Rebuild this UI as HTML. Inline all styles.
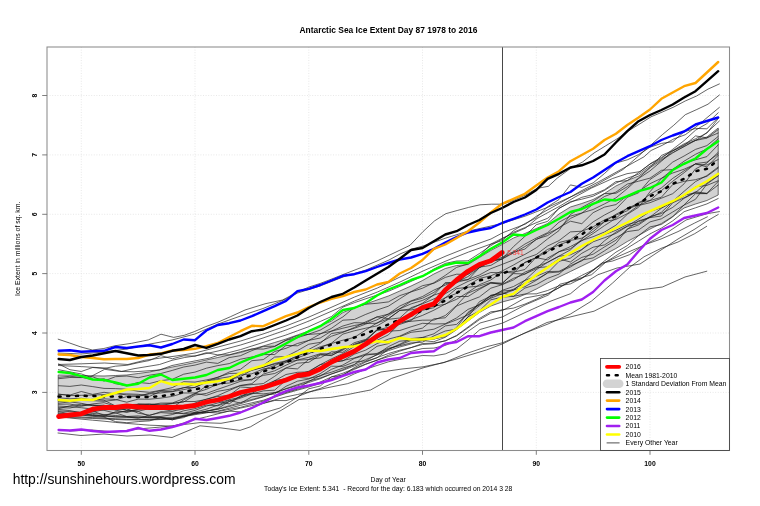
<!DOCTYPE html>
<html><head><meta charset="utf-8"><title>Antarctic Sea Ice Extent</title>
<style>html,body{margin:0;padding:0;background:#fff;width:760px;height:506px;overflow:hidden}</style></head>
<body>
<svg width="760" height="506" viewBox="0 0 760 506" style="position:absolute;left:0;top:0;font-family:'Liberation Sans',sans-serif">
<rect width="760" height="506" fill="#fff"/>
<g stroke="#dedede" stroke-width="0.7" stroke-dasharray="1 1.6" fill="none">
<line x1="81.3" y1="47" x2="81.3" y2="450.5"/>
<line x1="195.0" y1="47" x2="195.0" y2="450.5"/>
<line x1="308.8" y1="47" x2="308.8" y2="450.5"/>
<line x1="422.5" y1="47" x2="422.5" y2="450.5"/>
<line x1="536.3" y1="47" x2="536.3" y2="450.5"/>
<line x1="650.0" y1="47" x2="650.0" y2="450.5"/>
<line x1="47" y1="392.4" x2="729.5" y2="392.4"/>
<line x1="47" y1="333.0" x2="729.5" y2="333.0"/>
<line x1="47" y1="273.6" x2="729.5" y2="273.6"/>
<line x1="47" y1="214.3" x2="729.5" y2="214.3"/>
<line x1="47" y1="154.9" x2="729.5" y2="154.9"/>
<line x1="47" y1="95.5" x2="729.5" y2="95.5"/>
</g>
<defs><clipPath id="c"><rect x="47" y="47" width="682.5" height="403.5"/></clipPath></defs>
<g clip-path="url(#c)" fill="none" stroke-linejoin="round" stroke-linecap="round">
<polygon fill="#d2d2d2" stroke="#333" stroke-width="0.7" points="58.6,375.0 69.9,375.2 81.3,375.5 92.7,375.8 104.0,376.0 115.4,375.5 126.8,375.0 138.2,373.5 149.5,372.0 160.9,369.5 172.3,367.0 183.7,364.8 195.0,362.5 206.4,360.0 217.8,357.5 229.2,355.0 240.5,352.5 251.9,349.2 263.3,346.0 274.7,342.5 286.0,339.0 297.4,335.0 308.8,331.0 320.2,326.0 331.5,321.0 342.9,312.5 354.3,308.0 365.7,304.0 377.0,300.0 388.4,296.0 399.8,291.0 411.1,286.0 422.5,280.5 433.9,274.0 445.3,268.5 456.6,265.5 468.0,264.5 479.4,257.5 490.8,250.5 502.1,244.5 513.5,238.0 524.9,233.5 536.3,228.5 547.6,223.5 559.0,214.0 570.4,207.0 581.8,203.5 593.1,199.5 604.5,193.5 615.9,186.0 627.3,180.5 638.6,176.0 650.0,167.5 661.4,160.5 672.7,153.0 684.1,146.5 695.5,140.0 706.9,137.0 718.2,128.0 718.2,195.0 706.9,200.5 695.5,204.0 684.1,208.0 672.7,216.5 661.4,223.5 650.0,229.0 638.6,235.5 627.3,241.5 615.9,248.5 604.5,254.5 593.1,260.5 581.8,266.0 570.4,271.5 559.0,277.0 547.6,283.0 536.3,289.0 524.9,294.5 513.5,299.0 502.1,302.0 490.8,306.0 479.4,312.5 468.0,321.0 456.6,329.5 445.3,335.5 433.9,339.0 422.5,340.5 411.1,344.0 399.8,347.0 388.4,350.7 377.0,355.0 365.7,359.5 354.3,364.5 342.9,369.7 331.5,374.0 320.2,378.8 308.8,382.5 297.4,385.8 286.0,389.0 274.7,392.8 263.3,396.5 251.9,399.5 240.5,402.5 229.2,405.8 217.8,409.0 206.4,411.2 195.0,413.5 183.7,416.2 172.3,419.0 160.9,419.5 149.5,420.0 138.2,420.0 126.8,420.0 115.4,419.5 104.0,419.0 92.7,418.5 81.3,418.0 69.9,417.5 58.6,417.0"/>
<g stroke="#1c1c1c" stroke-width="0.68">
<polyline points="58.6,377.3 69.9,376.3 81.3,377.3 92.7,379.5 104.0,378.8 115.4,383.7 126.8,385.7 138.2,382.4 149.5,383.5 160.9,380.6 172.3,379.3 183.7,374.2 195.0,372.1 206.4,368.2 217.8,365.6 229.2,363.6 240.5,359.2 251.9,357.0 263.3,354.6 274.7,354.5 286.0,345.4 297.4,345.8 308.8,340.4 320.2,334.1 331.5,328.3 342.9,320.2 354.3,319.5 365.7,314.4 377.0,310.0 388.4,306.2 399.8,298.8 411.1,291.6 422.5,285.7 433.9,283.3 445.3,277.4 456.6,274.2 468.0,274.5 479.4,267.2 490.8,265.4 502.1,258.8 513.5,252.1 524.9,249.1 536.3,239.2 547.6,235.6 559.0,227.6 570.4,221.2 581.8,223.7 593.1,212.7 604.5,207.1 615.9,204.6 627.3,195.6 638.6,191.5 650.0,183.7 661.4,178.3 672.7,173.0 684.1,169.2 695.5,164.1 706.9,165.0 718.2,159.5"/>
<polyline points="58.6,378.7 69.9,377.5 81.3,377.6 92.7,376.8 104.0,381.1 115.4,376.7 126.8,376.0 138.2,377.7 149.5,375.2 160.9,373.5 172.3,370.4 183.7,367.0 195.0,365.1 206.4,362.1 217.8,363.4 229.2,357.6 240.5,355.7 251.9,350.6 263.3,346.4 274.7,346.2 286.0,340.1 297.4,335.6 308.8,334.4 320.2,333.6 331.5,331.2 342.9,328.2 354.3,325.5 365.7,323.4 377.0,323.3 388.4,315.5 399.8,308.8 411.1,303.9 422.5,300.4 433.9,295.1 445.3,291.3 456.6,282.4 468.0,279.4 479.4,275.0 490.8,268.7 502.1,264.4 513.5,259.9 524.9,254.4 536.3,247.8 547.6,238.9 559.0,230.6 570.4,214.5 581.8,207.5 593.1,201.3 604.5,193.5 615.9,193.3 627.3,186.7 638.6,178.0 650.0,167.7 661.4,155.5 672.7,150.5 684.1,143.8 695.5,138.8 706.9,133.1 718.2,118.6"/>
<polyline points="58.6,385.7 69.9,386.4 81.3,385.0 92.7,386.6 104.0,388.4 115.4,388.6 126.8,389.2 138.2,391.3 149.5,392.3 160.9,390.2 172.3,387.6 183.7,381.7 195.0,382.1 206.4,379.9 217.8,377.5 229.2,372.0 240.5,369.3 251.9,360.7 263.3,359.6 274.7,351.5 286.0,348.3 297.4,343.5 308.8,340.4 320.2,338.0 331.5,331.1 342.9,326.0 354.3,322.7 365.7,323.0 377.0,316.8 388.4,318.7 399.8,310.4 411.1,308.9 422.5,303.2 433.9,294.8 445.3,282.5 456.6,282.8 468.0,273.8 479.4,266.2 490.8,261.8 502.1,257.3 513.5,251.7 524.9,244.1 536.3,238.0 547.6,232.7 559.0,222.2 570.4,216.1 581.8,213.0 593.1,209.5 604.5,203.9 615.9,197.9 627.3,188.6 638.6,178.5 650.0,170.9 661.4,161.2 672.7,150.9 684.1,145.5 695.5,135.9 706.9,137.8 718.2,133.0"/>
<polyline points="58.6,394.1 69.9,395.5 81.3,395.3 92.7,395.0 104.0,394.6 115.4,393.2 126.8,395.0 138.2,395.4 149.5,393.9 160.9,392.9 172.3,391.6 183.7,387.5 195.0,387.5 206.4,381.4 217.8,378.6 229.2,376.8 240.5,374.1 251.9,369.9 263.3,365.3 274.7,357.0 286.0,356.6 297.4,350.7 308.8,344.2 320.2,342.4 331.5,336.2 342.9,332.4 354.3,327.5 365.7,321.8 377.0,317.0 388.4,314.1 399.8,308.7 411.1,301.3 422.5,298.2 433.9,292.4 445.3,283.6 456.6,281.9 468.0,276.6 479.4,267.7 490.8,260.9 502.1,258.9 513.5,246.6 524.9,236.4 536.3,224.7 547.6,221.4 559.0,208.2 570.4,202.5 581.8,197.3 593.1,194.6 604.5,189.7 615.9,181.6 627.3,180.7 638.6,172.6 650.0,164.1 661.4,158.5 672.7,149.3 684.1,140.6 695.5,130.2 706.9,123.6 718.2,112.8"/>
<polyline points="58.6,397.7 69.9,398.8 81.3,398.3 92.7,400.0 104.0,398.8 115.4,399.5 126.8,402.2 138.2,399.1 149.5,399.2 160.9,398.1 172.3,396.4 183.7,393.0 195.0,392.9 206.4,389.3 217.8,384.0 229.2,383.0 240.5,379.9 251.9,380.0 263.3,369.5 274.7,365.5 286.0,360.9 297.4,356.1 308.8,349.4 320.2,343.4 331.5,333.5 342.9,331.8 354.3,328.3 365.7,324.1 377.0,319.8 388.4,314.0 399.8,306.0 411.1,300.9 422.5,296.5 433.9,290.1 445.3,285.1 456.6,280.5 468.0,279.8 479.4,267.6 490.8,261.7 502.1,259.0 513.5,253.0 524.9,246.6 536.3,239.6 547.6,233.5 559.0,228.2 570.4,218.4 581.8,213.2 593.1,204.2 604.5,196.5 615.9,192.1 627.3,184.1 638.6,181.2 650.0,178.1 661.4,170.3 672.7,169.6 684.1,163.3 695.5,159.8 706.9,156.6 718.2,144.8"/>
<polyline points="58.6,394.3 69.9,395.1 81.3,391.5 92.7,394.4 104.0,392.3 115.4,393.8 126.8,393.9 138.2,394.3 149.5,396.3 160.9,391.3 172.3,391.7 183.7,389.6 195.0,387.3 206.4,382.3 217.8,379.7 229.2,379.8 240.5,376.7 251.9,369.9 263.3,367.3 274.7,363.4 286.0,360.8 297.4,356.1 308.8,351.7 320.2,346.8 331.5,343.5 342.9,340.2 354.3,337.4 365.7,330.1 377.0,322.9 388.4,318.8 399.8,310.4 411.1,310.0 422.5,307.6 433.9,303.9 445.3,297.7 456.6,293.4 468.0,285.3 479.4,278.4 490.8,275.8 502.1,271.0 513.5,265.0 524.9,258.5 536.3,254.5 547.6,246.0 559.0,240.6 570.4,231.9 581.8,231.2 593.1,221.9 604.5,215.0 615.9,209.1 627.3,197.3 638.6,192.8 650.0,179.5 661.4,172.0 672.7,162.1 684.1,156.0 695.5,149.4 706.9,145.6 718.2,136.4"/>
<polyline points="58.6,401.2 69.9,401.1 81.3,400.5 92.7,400.7 104.0,401.3 115.4,400.0 126.8,396.6 138.2,396.5 149.5,393.3 160.9,390.6 172.3,389.9 183.7,387.9 195.0,384.3 206.4,381.3 217.8,377.1 229.2,373.5 240.5,373.2 251.9,370.4 263.3,367.1 274.7,364.1 286.0,361.8 297.4,357.8 308.8,353.7 320.2,347.8 331.5,343.1 342.9,334.1 354.3,330.8 365.7,328.2 377.0,325.9 388.4,319.3 399.8,318.0 411.1,307.7 422.5,303.8 433.9,298.9 445.3,293.7 456.6,287.1 468.0,281.4 479.4,276.8 490.8,272.5 502.1,272.8 513.5,271.0 524.9,262.5 536.3,257.7 547.6,259.9 559.0,251.7 570.4,246.6 581.8,240.5 593.1,236.7 604.5,232.0 615.9,225.2 627.3,214.3 638.6,207.2 650.0,191.7 661.4,178.7 672.7,169.4 684.1,161.2 695.5,154.3 706.9,148.9 718.2,138.8"/>
<polyline points="58.6,400.8 69.9,400.8 81.3,400.4 92.7,399.3 104.0,400.2 115.4,405.9 126.8,404.7 138.2,404.3 149.5,403.8 160.9,405.4 172.3,403.6 183.7,401.5 195.0,401.5 206.4,399.4 217.8,395.6 229.2,390.5 240.5,385.6 251.9,384.6 263.3,383.6 274.7,376.3 286.0,368.0 297.4,363.2 308.8,362.3 320.2,355.0 331.5,355.2 342.9,350.1 354.3,342.7 365.7,339.4 377.0,330.4 388.4,329.3 399.8,320.3 411.1,315.1 422.5,310.3 433.9,307.7 445.3,297.9 456.6,288.6 468.0,287.2 479.4,286.0 490.8,282.4 502.1,283.2 513.5,273.6 524.9,274.0 536.3,268.8 547.6,258.0 559.0,251.7 570.4,248.7 581.8,240.6 593.1,233.5 604.5,225.6 615.9,218.4 627.3,208.1 638.6,203.6 650.0,194.2 661.4,187.9 672.7,178.4 684.1,170.8 695.5,163.9 706.9,166.9 718.2,155.3"/>
<polyline points="58.6,403.2 69.9,401.9 81.3,403.3 92.7,405.7 104.0,405.1 115.4,410.0 126.8,412.5 138.2,409.4 149.5,407.8 160.9,409.0 172.3,411.1 183.7,409.0 195.0,403.0 206.4,399.1 217.8,396.5 229.2,395.5 240.5,387.0 251.9,387.8 263.3,385.6 274.7,380.7 286.0,374.5 297.4,372.3 308.8,371.9 320.2,364.7 331.5,358.8 342.9,353.6 354.3,346.5 365.7,346.1 377.0,340.3 388.4,334.9 399.8,323.3 411.1,319.6 422.5,315.4 433.9,310.2 445.3,304.0 456.6,299.3 468.0,292.3 479.4,284.7 490.8,280.0 502.1,272.1 513.5,273.0 524.9,262.5 536.3,257.5 547.6,251.6 559.0,242.5 570.4,239.7 581.8,231.2 593.1,226.9 604.5,219.8 615.9,215.1 627.3,210.8 638.6,202.2 650.0,200.6 661.4,197.2 672.7,184.6 684.1,181.3 695.5,179.7 706.9,176.3 718.2,168.0"/>
<polyline points="58.6,404.3 69.9,404.0 81.3,406.3 92.7,403.9 104.0,402.7 115.4,406.1 126.8,405.1 138.2,404.5 149.5,404.6 160.9,404.3 172.3,403.3 183.7,402.0 195.0,395.0 206.4,393.4 217.8,389.3 229.2,385.4 240.5,381.3 251.9,379.2 263.3,375.4 274.7,373.5 286.0,368.0 297.4,368.9 308.8,359.4 320.2,357.9 331.5,351.8 342.9,352.3 354.3,344.1 365.7,340.6 377.0,330.0 388.4,327.3 399.8,324.4 411.1,320.6 422.5,309.4 433.9,306.1 445.3,304.3 456.6,296.5 468.0,296.5 479.4,289.4 490.8,283.1 502.1,283.9 513.5,272.2 524.9,269.5 536.3,257.1 547.6,249.4 559.0,245.0 570.4,240.5 581.8,238.1 593.1,231.6 604.5,221.8 615.9,214.3 627.3,208.4 638.6,205.3 650.0,200.5 661.4,190.6 672.7,181.3 684.1,172.7 695.5,163.6 706.9,162.1 718.2,153.9"/>
<polyline points="58.6,407.6 69.9,408.0 81.3,405.5 92.7,405.1 104.0,407.9 115.4,408.1 126.8,410.2 138.2,403.9 149.5,404.8 160.9,403.1 172.3,403.0 183.7,398.7 195.0,393.3 206.4,395.4 217.8,391.3 229.2,389.3 240.5,385.4 251.9,383.7 263.3,374.1 274.7,370.8 286.0,365.2 297.4,360.0 308.8,357.3 320.2,353.7 331.5,353.8 342.9,348.7 354.3,345.5 365.7,341.0 377.0,329.3 388.4,329.5 399.8,322.3 411.1,321.3 422.5,320.2 433.9,320.1 445.3,315.5 456.6,305.5 468.0,293.1 479.4,288.4 490.8,282.9 502.1,284.5 513.5,278.3 524.9,274.1 536.3,266.9 547.6,262.3 559.0,256.1 570.4,249.9 581.8,239.1 593.1,229.0 604.5,221.4 615.9,219.5 627.3,213.6 638.6,205.5 650.0,202.7 661.4,198.2 672.7,193.7 684.1,183.8 695.5,168.9 706.9,163.1 718.2,152.3"/>
<polyline points="58.6,415.8 69.9,416.2 81.3,414.7 92.7,414.4 104.0,416.5 115.4,411.8 126.8,411.6 138.2,409.1 149.5,406.6 160.9,408.7 172.3,407.7 183.7,399.8 195.0,394.0 206.4,386.0 217.8,384.8 229.2,379.9 240.5,375.0 251.9,373.8 263.3,368.9 274.7,368.2 286.0,362.3 297.4,360.2 308.8,359.5 320.2,354.3 331.5,355.7 342.9,349.1 354.3,344.8 365.7,339.9 377.0,338.3 388.4,331.2 399.8,330.5 411.1,326.8 422.5,323.3 433.9,324.0 445.3,323.7 456.6,317.9 468.0,309.4 479.4,304.9 490.8,295.2 502.1,294.3 513.5,290.2 524.9,280.4 536.3,276.2 547.6,271.6 559.0,271.3 570.4,265.7 581.8,260.9 593.1,251.2 604.5,240.8 615.9,232.1 627.3,226.0 638.6,219.2 650.0,211.4 661.4,207.8 672.7,202.3 684.1,195.9 695.5,186.8 706.9,185.4 718.2,180.7"/>
<polyline points="58.6,406.1 69.9,406.7 81.3,407.7 92.7,409.2 104.0,410.3 115.4,413.2 126.8,410.8 138.2,411.2 149.5,408.6 160.9,407.4 172.3,405.6 183.7,406.4 195.0,407.0 206.4,403.0 217.8,401.3 229.2,403.9 240.5,395.7 251.9,393.1 263.3,393.9 274.7,392.5 286.0,391.9 297.4,388.6 308.8,381.4 320.2,375.5 331.5,372.2 342.9,368.1 354.3,364.8 365.7,354.5 377.0,346.3 388.4,343.6 399.8,336.6 411.1,332.3 422.5,331.0 433.9,329.2 445.3,324.1 456.6,319.8 468.0,314.9 479.4,305.8 490.8,297.3 502.1,290.4 513.5,286.5 524.9,280.3 536.3,269.7 547.6,262.3 559.0,256.3 570.4,254.8 581.8,249.5 593.1,241.8 604.5,237.7 615.9,233.4 627.3,226.4 638.6,223.6 650.0,216.5 661.4,213.6 672.7,207.4 684.1,198.3 695.5,192.5 706.9,183.1 718.2,175.5"/>
<polyline points="58.6,413.0 69.9,414.1 81.3,412.3 92.7,411.1 104.0,415.2 115.4,412.8 126.8,416.5 138.2,415.9 149.5,417.2 160.9,417.3 172.3,419.9 183.7,416.5 195.0,414.1 206.4,411.3 217.8,408.5 229.2,401.4 240.5,396.7 251.9,393.5 263.3,386.6 274.7,383.2 286.0,379.9 297.4,377.3 308.8,378.4 320.2,376.1 331.5,369.3 342.9,365.0 354.3,358.4 365.7,355.2 377.0,353.4 388.4,348.3 399.8,345.7 411.1,343.0 422.5,342.2 433.9,335.9 445.3,331.0 456.6,329.1 468.0,316.9 479.4,301.7 490.8,296.1 502.1,291.1 513.5,290.0 524.9,286.7 536.3,280.3 547.6,273.0 559.0,261.4 570.4,258.1 581.8,249.7 593.1,239.5 604.5,234.6 615.9,230.3 627.3,224.5 638.6,221.6 650.0,217.4 661.4,212.3 672.7,201.5 684.1,195.2 695.5,192.8 706.9,193.6 718.2,185.0"/>
<polyline points="58.6,411.6 69.9,413.9 81.3,412.3 92.7,412.1 104.0,409.6 115.4,409.8 126.8,408.6 138.2,413.2 149.5,415.1 160.9,412.6 172.3,413.4 183.7,413.3 195.0,410.4 206.4,406.1 217.8,403.0 229.2,399.7 240.5,397.3 251.9,389.9 263.3,388.5 274.7,380.7 286.0,378.8 297.4,374.9 308.8,371.2 320.2,364.7 331.5,362.3 342.9,360.9 354.3,354.2 365.7,350.1 377.0,343.6 388.4,339.1 399.8,336.1 411.1,330.8 422.5,328.1 433.9,318.8 445.3,317.8 456.6,306.0 468.0,301.3 479.4,296.9 490.8,288.2 502.1,284.7 513.5,279.9 524.9,272.1 536.3,267.7 547.6,266.8 559.0,258.9 570.4,262.0 581.8,253.3 593.1,247.2 604.5,244.9 615.9,237.7 627.3,231.6 638.6,230.0 650.0,221.9 661.4,218.8 672.7,212.0 684.1,205.1 695.5,199.3 706.9,184.1 718.2,175.9"/>
<polyline points="58.6,408.7 69.9,405.8 81.3,404.2 92.7,405.0 104.0,405.8 115.4,405.9 126.8,410.3 138.2,411.3 149.5,416.6 160.9,416.5 172.3,414.6 183.7,410.8 195.0,408.7 206.4,405.0 217.8,405.8 229.2,401.6 240.5,398.1 251.9,393.9 263.3,390.9 274.7,390.1 286.0,380.1 297.4,374.6 308.8,372.0 320.2,369.1 331.5,362.3 342.9,360.5 354.3,358.0 365.7,354.0 377.0,354.3 388.4,346.6 399.8,341.2 411.1,340.2 422.5,337.5 433.9,339.0 445.3,336.7 456.6,327.4 468.0,312.3 479.4,304.3 490.8,295.6 502.1,292.6 513.5,296.4 524.9,288.1 536.3,284.6 547.6,278.4 559.0,274.1 570.4,264.1 581.8,257.4 593.1,254.2 604.5,246.9 615.9,240.2 627.3,229.1 638.6,224.9 650.0,217.0 661.4,208.3 672.7,201.3 684.1,191.3 695.5,181.6 706.9,175.6 718.2,167.0"/>
<polyline points="58.6,409.4 69.9,410.6 81.3,412.8 92.7,415.6 104.0,415.7 115.4,416.8 126.8,416.9 138.2,418.3 149.5,415.5 160.9,411.7 172.3,411.8 183.7,413.8 195.0,412.5 206.4,412.4 217.8,413.0 229.2,411.1 240.5,411.9 251.9,407.6 263.3,403.4 274.7,400.5 286.0,400.6 297.4,397.5 308.8,388.8 320.2,386.0 331.5,376.9 342.9,375.3 354.3,367.6 365.7,362.1 377.0,357.8 388.4,349.4 399.8,344.2 411.1,338.6 422.5,337.4 433.9,333.8 445.3,325.9 456.6,324.4 468.0,313.4 479.4,304.2 490.8,298.2 502.1,293.8 513.5,289.2 524.9,283.2 536.3,279.6 547.6,272.9 559.0,272.0 570.4,267.0 581.8,260.1 593.1,257.9 604.5,250.8 615.9,243.3 627.3,229.3 638.6,220.8 650.0,217.6 661.4,216.0 672.7,202.8 684.1,197.8 695.5,191.8 706.9,193.3 718.2,181.4"/>
<polyline points="58.6,414.7 69.9,416.2 81.3,415.0 92.7,416.3 104.0,417.1 115.4,421.6 126.8,422.7 138.2,421.6 149.5,420.9 160.9,417.6 172.3,419.7 183.7,417.6 195.0,412.1 206.4,409.2 217.8,405.1 229.2,400.2 240.5,403.2 251.9,396.9 263.3,395.2 274.7,394.0 286.0,386.3 297.4,381.2 308.8,379.0 320.2,373.7 331.5,366.2 342.9,366.4 354.3,362.0 365.7,360.8 377.0,354.5 388.4,349.3 399.8,344.8 411.1,340.4 422.5,340.6 433.9,341.7 445.3,337.3 456.6,329.6 468.0,316.9 479.4,310.9 490.8,299.8 502.1,297.2 513.5,296.3 524.9,294.0 536.3,293.8 547.6,290.5 559.0,285.8 570.4,283.9 581.8,278.2 593.1,270.7 604.5,260.9 615.9,252.2 627.3,245.6 638.6,235.6 650.0,226.9 661.4,224.5 672.7,216.9 684.1,204.8 695.5,193.7 706.9,193.6"/>
<polyline points="58.6,363.9 69.9,369.7 81.3,371.5 92.7,367.5 104.0,368.5 115.4,366.2 126.8,365.3 138.2,362.7 149.5,360.5 160.9,355.6 172.3,358.8 183.7,355.8 195.0,356.1 206.4,352.7 217.8,354.9 229.2,354.8 240.5,351.7 251.9,348.9 263.3,349.1 274.7,346.5 286.0,340.4 297.4,337.7 308.8,334.1 320.2,330.1 331.5,323.5 342.9,316.9 354.3,307.4 365.7,304.2 377.0,303.3 388.4,301.9 399.8,295.6 411.1,291.9 422.5,288.2 433.9,282.7 445.3,275.4 456.6,267.4 468.0,264.0 479.4,256.1 490.8,244.2 502.1,240.6 513.5,230.6 524.9,223.6 536.3,217.9 547.6,206.8 559.0,199.5 570.4,184.9 581.8,187.4 593.1,182.9 604.5,173.5 615.9,163.0 627.3,159.8 638.6,154.6 650.0,147.2 661.4,143.4 672.7,141.8 684.1,131.8 695.5,128.4 706.9,128.8 718.2,117.6"/>
<polyline points="58.4,369.7 81.6,374.0 90.0,377.0 104.7,369.3 119.5,371.4 134.0,371.8 159.5,370.0 172.0,365.5 193.0,361.3 210.0,358.0 217.8,355.4 229.2,352.5 240.5,349.6 251.9,346.0 263.3,342.4 274.7,338.6 286.0,335.0 297.4,330.8 308.8,326.7 320.2,321.5 331.5,316.5 342.9,307.1 354.3,302.7 365.7,298.8 377.0,295.1 388.4,291.3 399.8,286.4 411.1,281.4 422.5,276.0 433.9,269.0 445.3,263.4 456.6,261.0 468.0,260.8 479.4,253.5 490.8,245.7 502.1,239.0 513.5,232.2 524.9,227.6 536.3,222.7 547.6,218.3 559.0,208.5 570.4,201.7 581.8,199.2 593.1,196.2 604.5,190.4 615.9,183.1 627.3,178.2 638.6,174.2 650.0,166.1 661.4,159.5 672.7,152.5 684.1,146.5 695.5,140.5 706.9,138.1 718.2,129.6"/>
<polyline points="58.2,339.2 69.6,343.0 81.0,347.0 92.4,350.0 103.8,348.5 114.7,345.8 131.6,343.3 148.4,339.9 161.0,334.2 173.7,337.4 184.2,335.3 194.7,331.5 205.3,326.8 217.9,322.2 230.5,316.7 245.0,310.0 265.0,303.8 282.5,300.0 297.6,292.0 309.0,287.0 320.0,283.5 331.8,279.0 345.0,273.8 360.0,268.0 377.0,261.0 395.0,252.5 410.0,245.3 423.0,231.6 434.4,221.0 445.8,213.7 457.2,210.5 468.6,207.4 480.0,204.8 491.4,204.2 502.8,204.2 514.2,200.0 525.6,195.0 537.0,188.4 548.4,186.3 557.5,177.9 571.2,168.0 582.6,162.0 594.0,153.0 605.4,146.0 616.8,139.0 628.2,131.0 639.6,124.0 651.0,116.8 662.4,112.0 673.8,107.0 685.2,101.0 696.6,96.0 708.0,89.1 719.4,83.9"/>
<polyline points="58.2,353.0 81.0,354.0 104.0,352.0 127.0,349.0 150.0,344.0 172.0,340.0 195.0,334.0 218.0,324.0 240.6,316.0 263.0,308.5 286.0,299.0 297.6,293.0 320.0,286.0 343.0,277.0 366.0,270.0 389.0,260.0 400.0,254.0 412.0,249.0 423.0,246.0 446.0,238.0 468.6,231.0 491.0,226.0 503.0,223.2 525.6,216.0 548.4,207.0 571.0,196.8 594.0,186.0 617.0,173.0 623.0,169.5 640.0,154.7 650.5,145.3 662.3,134.7 673.7,125.3 685.3,114.7 696.8,109.5 708.0,104.2 719.4,95.0"/>
<polyline points="58.4,364.5 81.6,363.8 104.7,363.0 127.9,364.5 144.7,360.3 159.5,358.2 176.0,356.0 195.0,353.0 218.0,347.0 240.6,341.0 263.0,334.0 286.0,326.0 309.0,317.0 332.0,307.0 354.6,297.0 377.4,288.0 400.0,277.0 423.0,266.0 446.0,256.0 468.6,247.0 491.0,239.0 503.0,232.6 525.6,224.0 537.0,215.8 560.0,203.0 581.0,191.0 602.0,180.0 623.0,168.4 644.0,156.8 651.0,150.5 662.3,145.3 673.7,139.0 685.3,134.7 696.8,126.3 708.0,116.8 719.4,107.4"/>
<polyline points="58.4,365.5 81.6,366.6 104.7,368.0 121.6,371.4 134.0,368.7 159.5,364.5 172.0,360.3 184.7,357.5 195.0,356.0 218.0,351.0 240.6,345.0 263.0,338.0 286.0,330.0 309.0,321.0 332.0,311.0 354.6,301.0 377.4,292.0 400.0,282.0 423.0,271.0 446.0,261.0 468.6,252.0 491.0,244.0 503.0,237.9 525.6,228.0 537.0,218.5 560.0,206.0 575.0,197.0 591.6,188.0 612.6,178.5 627.0,173.7 640.0,171.6 651.0,163.2 662.3,156.8 673.7,150.5 685.3,144.2 696.8,140.0 708.0,131.6 719.4,121.0"/>
<polyline points="58.0,433.0 81.0,435.5 104.0,434.0 127.0,436.0 150.0,435.0 172.0,437.5 185.0,432.0 200.0,425.8 221.0,427.9 240.0,430.4 250.5,426.8 263.0,419.5 280.0,411.0 290.5,404.7 299.0,399.5 309.5,398.4 330.5,397.4 347.4,394.6 360.0,392.0 370.5,390.0 391.6,378.4 423.0,367.9 454.7,359.5 486.3,350.0 503.0,343.7 520.0,335.3 547.0,322.5 570.0,317.0 594.0,311.2 617.0,299.5 639.6,290.0 662.4,287.0 685.0,277.0 706.8,271.2"/>
<polyline points="69.6,431.0 92.4,430.0 115.0,432.0 138.0,429.0 161.0,427.0 184.0,424.5 200.0,422.6 221.0,423.3 242.0,419.5 263.0,413.0 280.0,408.0 290.5,401.6 299.0,396.0 309.5,392.0 326.0,388.0 347.4,383.7 360.0,379.5 381.0,372.0 402.0,369.0 423.0,366.8 444.0,362.6 465.0,354.0 486.3,346.8 503.0,342.6 525.0,333.0 548.0,324.0 570.5,314.0 591.6,301.0 612.6,283.0 629.5,267.4 644.0,256.8 661.0,248.4 678.0,242.0 694.7,233.7 706.7,226.3"/>
<polyline points="58.6,413.9 69.9,414.4 81.3,414.9 92.7,415.5 104.0,416.2 115.4,416.8 126.8,417.4 138.2,417.6 149.5,417.7 160.9,418.0 172.3,418.4 183.7,416.6 195.0,414.7 206.4,412.9 217.8,411.1 229.2,408.2 240.5,405.3 251.9,402.8 263.3,400.2 274.7,396.3 286.0,392.5 297.4,389.3 308.8,386.0 320.2,382.0 331.5,376.9 342.9,373.2 354.3,368.6 365.7,364.0 377.0,360.2 388.4,356.6 399.8,353.9 411.1,351.4 422.5,348.5 433.9,348.1 445.3,345.4 456.6,340.1 468.0,331.4 480.0,323.0 502.7,316.8 525.0,305.0 548.4,295.0 560.0,284.2 581.0,279.0 602.0,263.0 612.6,261.0 629.5,254.7 644.0,245.0 661.0,239.0 678.0,231.6 694.7,223.0 707.4,216.8"/>
<polyline points="58.6,417.0 69.9,418.0 81.3,419.1 92.7,420.2 104.0,421.2 115.4,422.4 126.8,423.4 138.2,424.3 149.5,425.2 160.9,425.6 172.3,426.4 183.7,422.9 195.0,419.5 206.4,416.8 217.8,413.9 229.2,411.0 240.5,408.1 251.9,405.6 263.3,403.2 274.7,399.9 286.0,396.9 297.4,394.5 308.8,392.0 320.2,388.5 331.5,383.8 342.9,379.3 354.3,373.9 365.7,369.2 377.0,365.5 388.4,361.8 399.8,359.4 411.1,357.5 422.5,355.5 433.9,355.9 445.3,353.9 456.6,349.1 468.0,340.0 480.0,329.5 502.7,323.0 525.0,312.6 548.4,302.0 570.5,293.7 581.0,285.0 598.0,274.7 617.0,268.0 640.0,264.0 661.0,250.0 678.0,239.0 695.0,229.0 707.0,221.0 718.2,214.5"/>
<polyline points="58.6,410.9 69.9,411.6 81.3,412.4 92.7,413.4 104.0,414.5 115.4,415.5 126.8,416.6 138.2,417.1 149.5,417.7 160.9,417.8 172.3,417.8 183.7,415.4 195.0,413.1 206.4,411.2 217.8,409.4 229.2,406.6 240.5,403.7 251.9,400.3 263.3,396.9 274.7,392.8 286.0,388.6 297.4,384.8 308.8,381.0 320.2,378.1 331.5,374.0 342.9,370.4 354.3,365.9 365.7,361.4 377.0,357.6 388.4,353.5 399.8,350.2 411.1,347.6 422.5,344.5 433.9,343.7 445.3,340.8 456.6,335.4 468.0,327.0 479.4,318.5 490.8,311.8 502.7,310.5 525.0,298.0 548.4,293.7 570.5,281.0 591.6,274.7 606.0,262.0 617.0,257.0 640.0,247.0 662.0,236.0 686.0,220.0 707.0,213.7 719.4,211.6"/>
<polyline points="58.6,416.0 69.9,416.5 81.3,417.1 92.7,417.7 104.0,418.2 115.4,418.8 126.8,419.4 138.2,419.5 149.5,419.6 160.9,419.2 172.3,418.8 183.7,416.1 195.0,413.5 206.4,412.5 217.8,411.5 229.2,409.4 240.5,407.3 251.9,404.2 263.3,401.1 274.7,397.2 286.0,393.4 297.4,390.2 308.8,387.0 320.2,383.5 331.5,378.9 342.9,374.6 354.3,369.4 365.7,364.4 377.0,360.2 388.4,355.3 399.8,351.1 411.1,347.6 422.5,343.5 433.9,343.1 445.3,340.8 456.6,335.9 468.0,327.9 479.4,319.7 490.8,313.2 502.1,309.7 513.5,308.1 524.9,304.1 536.3,299.2 547.6,293.6 559.0,287.8 570.4,281.4 581.8,275.4 593.1,269.9 604.5,262.8 615.9,255.8 627.3,248.1 638.6,241.1 650.0,233.9 661.4,228.1 672.7,220.9 684.1,211.7 695.5,207.8 706.9,203.9 718.2,198.5"/>
</g>
<polyline points="58.6,396.5 69.9,396.0 81.3,395.8 92.7,396.0 104.0,396.5 115.4,396.5 126.8,397.0 138.2,397.0 149.5,397.0 160.9,396.2 172.3,394.5 183.7,392.0 195.0,389.5 206.4,386.8 217.8,384.2 229.2,381.5 240.5,378.5 251.9,375.0 263.3,371.5 274.7,367.5 286.0,362.5 297.4,357.5 308.8,352.5 320.2,349.0 331.5,344.5 342.9,341.5 354.3,337.5 365.7,333.8 377.0,328.8 388.4,324.5 399.8,319.5 411.1,315.5 422.5,310.5 433.9,306.0 445.3,300.5 456.6,293.0 468.0,286.5 479.4,280.5 490.8,277.2 502.1,274.0 513.5,268.8 524.9,263.8 536.3,257.5 547.6,251.5 559.0,246.2 570.4,241.0 581.8,234.5 593.1,226.2 604.5,221.2 615.9,216.2 627.3,208.8 638.6,203.8 650.0,196.2 661.4,191.2 672.7,183.8 684.1,178.8 695.5,171.2 706.9,168.8 718.2,160.0" stroke="#000" stroke-width="2.5" stroke-dasharray="2 6.7"/>
<polyline points="58.6,400.0 69.9,400.8 81.3,399.5 92.7,400.0 104.0,396.2 115.4,393.0 126.8,389.5 138.2,389.0 149.5,388.0 160.9,381.2 172.3,384.5 183.7,383.8 195.0,384.5 206.4,382.5 217.8,381.2 229.2,378.8 240.5,373.0 251.9,369.0 263.3,365.5 274.7,360.5 286.0,356.8 297.4,353.8 308.8,350.5 320.2,351.0 331.5,349.0 342.9,347.2 354.3,346.2 365.7,344.0 377.0,341.2 388.4,342.2 399.8,338.0 411.1,339.5 422.5,339.5 433.9,338.2 445.3,335.0 456.6,328.8 468.0,320.0 479.4,311.2 490.8,304.5 502.1,297.0 513.5,293.8 524.9,283.8 536.3,275.0 547.6,267.5 559.0,260.0 570.4,253.0 581.8,246.0 593.1,240.0 604.5,234.0 615.9,228.0 627.3,222.5 638.6,216.2 650.0,211.2 661.4,206.2 672.7,201.2 684.1,195.0 695.5,187.5 706.9,181.2 718.2,173.8" stroke="#ffff00" stroke-width="2.4"/>
<polyline points="58.6,430.0 69.9,430.5 81.3,429.5 92.7,431.0 104.0,432.0 115.4,431.5 126.8,431.0 138.2,428.0 149.5,430.8 160.9,429.5 172.3,427.0 183.7,423.8 195.0,418.8 206.4,420.0 217.8,418.0 229.2,415.8 240.5,412.5 251.9,408.0 263.3,402.5 274.7,396.2 286.0,391.2 297.4,387.5 308.8,385.5 320.2,383.0 331.5,380.0 342.9,375.8 354.3,372.0 365.7,369.5 377.0,362.5 388.4,359.5 399.8,358.0 411.1,353.0 422.5,352.0 433.9,351.2 445.3,343.8 456.6,342.0 468.0,336.2 479.4,336.2 490.8,332.5 502.1,330.0 513.5,327.5 524.9,321.2 536.3,316.2 547.6,311.2 559.0,307.0 570.4,302.5 581.8,299.5 593.1,292.0 604.5,280.5 615.9,271.2 627.3,264.5 638.6,251.2 650.0,238.8 661.4,230.0 672.7,225.0 684.1,218.0 695.5,215.5 706.9,213.0 718.2,207.5" stroke="#a020f0" stroke-width="2.4"/>
<polyline points="58.6,372.0 69.9,373.0 81.3,376.2 92.7,379.5 104.0,380.0 115.4,382.5 126.8,385.5 138.2,383.8 149.5,377.5 160.9,374.5 172.3,380.0 183.7,378.8 195.0,377.5 206.4,375.0 217.8,370.0 229.2,368.0 240.5,362.5 251.9,357.8 263.3,354.0 274.7,349.5 286.0,343.5 297.4,337.2 308.8,331.2 320.2,326.2 331.5,318.8 342.9,310.0 354.3,308.0 365.7,303.0 377.0,295.5 388.4,289.5 399.8,285.0 411.1,280.0 422.5,276.2 433.9,270.0 445.3,265.0 456.6,262.5 468.0,263.0 479.4,256.2 490.8,248.8 502.1,242.5 513.5,234.5 524.9,235.5 536.3,230.0 547.6,225.0 559.0,218.8 570.4,212.0 581.8,209.0 593.1,203.8 604.5,199.5 615.9,200.5 627.3,196.2 638.6,191.2 650.0,188.0 661.4,182.5 672.7,170.0 684.1,163.8 695.5,158.5 706.9,149.0 718.2,141.2" stroke="#00ff00" stroke-width="2.4"/>
<polyline points="58.6,350.8 69.9,350.2 81.3,351.8 92.7,351.2 104.0,350.8 115.4,347.0 126.8,348.0 138.2,346.5 149.5,345.2 160.9,347.5 172.3,344.0 183.7,339.5 195.0,340.2 206.4,330.5 217.8,325.0 229.2,323.2 240.5,320.5 251.9,316.2 263.3,311.2 274.7,306.2 286.0,300.8 297.4,291.2 308.8,288.8 320.2,285.0 331.5,280.5 342.9,275.8 354.3,274.2 365.7,271.2 377.0,267.0 388.4,263.0 399.8,259.5 411.1,257.5 422.5,253.8 433.9,248.8 445.3,242.5 456.6,237.0 468.0,232.5 479.4,230.0 490.8,228.0 502.1,223.0 513.5,218.8 524.9,214.5 536.3,209.5 547.6,202.5 559.0,197.0 570.4,192.0 581.8,183.8 593.1,177.5 604.5,170.0 615.9,162.5 627.3,156.2 638.6,151.2 650.0,146.2 661.4,140.0 672.7,135.5 684.1,131.5 695.5,124.5 706.9,121.0 718.2,117.5" stroke="#0000ff" stroke-width="2.4"/>
<polyline points="58.6,354.5 69.9,355.0 81.3,357.0 92.7,358.0 104.0,359.2 115.4,359.0 126.8,359.0 138.2,358.0 149.5,354.5 160.9,353.5 172.3,350.5 183.7,350.0 195.0,348.8 206.4,346.2 217.8,343.0 229.2,337.0 240.5,331.2 251.9,325.8 263.3,326.2 274.7,321.2 286.0,316.2 297.4,312.5 308.8,307.0 320.2,302.5 331.5,298.8 342.9,296.2 354.3,292.0 365.7,289.5 377.0,284.5 388.4,282.0 399.8,273.5 411.1,268.0 422.5,260.0 433.9,248.8 445.3,244.5 456.6,238.0 468.0,231.2 479.4,222.5 490.8,212.5 502.1,203.8 513.5,198.8 524.9,193.8 536.3,185.5 547.6,177.5 559.0,171.2 570.4,161.2 581.8,155.0 593.1,148.8 604.5,140.0 615.9,133.8 627.3,125.0 638.6,117.5 650.0,109.5 661.4,98.8 672.7,92.5 684.1,86.2 695.5,83.0 706.9,72.5 718.2,62.0" stroke="#ffa500" stroke-width="2.4"/>
<polyline points="58.6,359.0 69.9,360.0 81.3,357.0 92.7,355.5 104.0,353.2 115.4,351.0 126.8,353.2 138.2,355.5 149.5,355.0 160.9,353.8 172.3,350.8 183.7,349.0 195.0,345.0 206.4,347.8 217.8,343.8 229.2,339.5 240.5,336.2 251.9,331.2 263.3,329.5 274.7,325.0 286.0,320.5 297.4,315.5 308.8,308.0 320.2,302.0 331.5,297.0 342.9,293.8 354.3,287.5 365.7,280.5 377.0,273.8 388.4,267.0 399.8,258.8 411.1,250.0 422.5,248.0 433.9,241.2 445.3,234.5 456.6,231.2 468.0,225.0 479.4,220.0 490.8,213.0 502.1,208.0 513.5,202.0 524.9,197.5 536.3,190.0 547.6,178.8 559.0,173.8 570.4,167.5 581.8,165.3 593.1,161.0 604.5,154.5 615.9,142.5 627.3,131.2 638.6,121.2 650.0,115.0 661.4,110.0 672.7,104.5 684.1,97.5 695.5,91.2 706.9,81.2 718.2,71.2" stroke="#000" stroke-width="2.4"/>
<polyline points="58.6,416.5 69.9,415.0 81.3,413.8 92.7,409.2 104.0,407.5 115.4,407.5 126.8,406.0 138.2,407.0 149.5,407.5 160.9,407.5 172.3,407.5 183.7,406.8 195.0,405.5 206.4,402.0 217.8,400.0 229.2,396.5 240.5,392.5 251.9,390.0 263.3,387.5 274.7,383.8 286.0,380.0 297.4,375.5 308.8,374.0 320.2,369.0 331.5,362.0 342.9,356.5 354.3,351.2 365.7,344.0 377.0,336.2 388.4,330.0 399.8,321.2 411.1,314.5 422.5,307.5 433.9,303.8 445.3,290.0 456.6,280.0 468.0,271.2 479.4,264.5 490.8,260.8 502.1,252.5" stroke="#ff0000" stroke-width="4.8"/>
<line x1="502.5" y1="47" x2="502.5" y2="450.5" stroke="#333" stroke-width="0.9" stroke-linecap="butt"/>
</g>
<text x="507.2" y="255.4" font-size="6.6" fill="#ff4040">5.341</text>
<rect x="47" y="47" width="682.5" height="403.5" fill="none" stroke="#8c8c8c" stroke-width="1.05"/>
<g stroke="#707070" stroke-width="0.9">
<line x1="81.3" y1="450.5" x2="81.3" y2="454.8"/>
<line x1="195.0" y1="450.5" x2="195.0" y2="454.8"/>
<line x1="308.8" y1="450.5" x2="308.8" y2="454.8"/>
<line x1="422.5" y1="450.5" x2="422.5" y2="454.8"/>
<line x1="536.3" y1="450.5" x2="536.3" y2="454.8"/>
<line x1="650.0" y1="450.5" x2="650.0" y2="454.8"/>
<line x1="42.2" y1="392.4" x2="47" y2="392.4"/>
<line x1="42.2" y1="333.0" x2="47" y2="333.0"/>
<line x1="42.2" y1="273.6" x2="47" y2="273.6"/>
<line x1="42.2" y1="214.3" x2="47" y2="214.3"/>
<line x1="42.2" y1="154.9" x2="47" y2="154.9"/>
<line x1="42.2" y1="95.5" x2="47" y2="95.5"/>
</g>
<g font-size="6.8" font-weight="bold" fill="#000" text-anchor="middle">
<text x="81.3" y="465.6">50</text>
<text x="195.0" y="465.6">60</text>
<text x="308.8" y="465.6">70</text>
<text x="422.5" y="465.6">80</text>
<text x="536.3" y="465.6">90</text>
<text x="650.0" y="465.6">100</text>
<text transform="translate(37,392.4) rotate(-90)">3</text>
<text transform="translate(37,333.0) rotate(-90)">4</text>
<text transform="translate(37,273.6) rotate(-90)">5</text>
<text transform="translate(37,214.3) rotate(-90)">6</text>
<text transform="translate(37,154.9) rotate(-90)">7</text>
<text transform="translate(37,95.5) rotate(-90)">8</text>
</g>
<rect x="600.5" y="358.5" width="129" height="92" fill="none" stroke="#454545" stroke-width="0.85"/>
<g stroke-linecap="round">
<line x1="607" y1="366.8" x2="619.2" y2="366.8" stroke="#ff0000" stroke-width="3.8"/>
<line x1="607" y1="375.3" x2="619.2" y2="375.3" stroke="#000" stroke-width="2.5" stroke-dasharray="2 6.7"/>
<line x1="607" y1="383.7" x2="619.2" y2="383.7" stroke="#d3d3d3" stroke-width="8.6"/>
<line x1="607" y1="392.2" x2="619.2" y2="392.2" stroke="#000" stroke-width="2.6"/>
<line x1="607" y1="400.6" x2="619.2" y2="400.6" stroke="#ffa500" stroke-width="2.6"/>
<line x1="607" y1="409.1" x2="619.2" y2="409.1" stroke="#0000ff" stroke-width="2.6"/>
<line x1="607" y1="417.6" x2="619.2" y2="417.6" stroke="#00ff00" stroke-width="2.6"/>
<line x1="607" y1="426.0" x2="619.2" y2="426.0" stroke="#a020f0" stroke-width="2.6"/>
<line x1="607" y1="434.5" x2="619.2" y2="434.5" stroke="#ffff00" stroke-width="2.6"/>
<line x1="607" y1="442.9" x2="619.2" y2="442.9" stroke="#222" stroke-width="0.8"/>
</g>
<g font-size="6.85" fill="#000">
<text x="625.6" y="369.2">2016</text>
<text x="625.6" y="377.7">Mean 1981-2010</text>
<text x="625.6" y="386.1">1 Standard Deviation From Mean</text>
<text x="625.6" y="394.6">2015</text>
<text x="625.6" y="403.0">2014</text>
<text x="625.6" y="411.5">2013</text>
<text x="625.6" y="420.0">2012</text>
<text x="625.6" y="428.4">2011</text>
<text x="625.6" y="436.9">2010</text>
<text x="625.6" y="445.3">Every Other Year</text>
</g>
<text x="388.4" y="33.4" font-size="8.43" font-weight="bold" text-anchor="middle">Antarctic Sea Ice Extent Day 87 1978 to 2016</text>
<text x="388.2" y="482.4" font-size="6.8" text-anchor="middle">Day of Year</text>
<text x="388.2" y="491.3" font-size="6.78" text-anchor="middle" xml:space="preserve">Today's Ice Extent: 5.341  - Record for the day: 6.183 which occurred on 2014 3 28</text>
<text transform="translate(20.4,248.8) rotate(-90)" font-size="6.88" text-anchor="middle">Ice Extent in millions of sq. km.</text>
<text x="12.7" y="483.7" font-size="13.88">http://sunshinehours.wordpress.com</text>
</svg>
</body></html>
